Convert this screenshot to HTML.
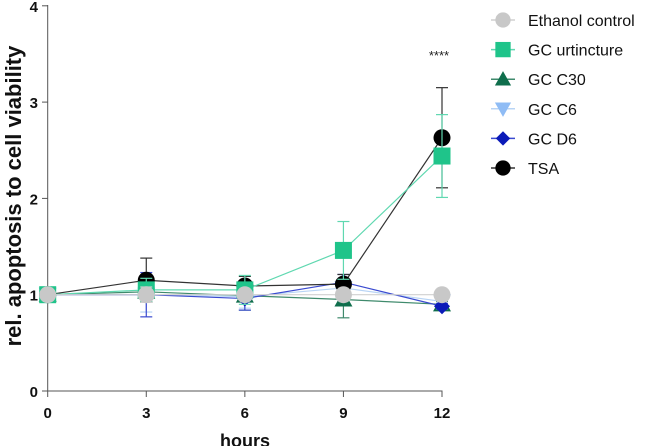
<!DOCTYPE html>
<html><head><meta charset="utf-8"><style>
body{margin:0;background:#fff;}
svg{display:block;font-family:"Liberation Sans",Arial,sans-serif;}
</style></head><body>
<svg id="chart" width="646" height="446" viewBox="0 0 646 446"></svg>
<script>
const hours=[0,3,6,9,12];
const yTicks=[0,1,2,3,4];
const seriesNames=["Ethanol control","GC urtincture","GC C30","GC C6","GC D6","TSA"];
const ethanol=[1,1,1,1,1];
const urt=[1,1.05,1.05,1.46,2.44];
const c30=[1,1.03,0.99,0.95,0.9];
const c6=[1,1.0,0.98,1.07,0.93];
const d6=[1,1.0,0.96,1.13,0.88];
const tsa=[1,1.15,1.09,1.11,2.63];
const ethanolErr=[0,0.08,0.05,0.05,0.03];
const urtErr=[0,0.12,0.15,0.30,0.43];
const c30Err=[0,0.1,0.15,0.19,0.03];
const c6Err=[0,0.18,0.12,0.1,0.03];
const d6Err=[0,0.23,0.12,0.08,0.03];
const tsaErr=[0,0.23,0.1,0.1,0.52];
const colors=["#c8c8c8","#1fc48a","#0f6e4c","#8fbcf5","#0b1ab8","#000000"];
const lineColors=["#d0d0d0","#5fd8b0","#3f8a6c","#b8d4f5","#3a4ad0","#333333"];
const shapes=["circle","square","tri","tridown","diamond","circle"];
const all=[ethanol,urt,c30,c6,d6,tsa];
const errs=[ethanolErr,urtErr,c30Err,c6Err,d6Err,tsaErr];
const NS="http://www.w3.org/2000/svg";
const svg=document.getElementById('chart');
const X=v=>47.7+v*(442-47.7)/12;
const Y=v=>391-v*96.3;
function mk(t,a,p){const e=document.createElementNS(NS,t);for(const k in a)e.setAttribute(k,a[k]);(p||svg).appendChild(e);return e;}
let ax=mk('line',{x1:47.7,y1:5,x2:47.7,y2:391,stroke:'#555','stroke-width':1});


let ax2=mk('line',{x1:47.7,y1:391,x2:442.5,y2:391,stroke:'#555','stroke-width':1});


yTicks.forEach(t=>{
  mk('line',{x1:42,x2:47.7,y1:Y(t),y2:Y(t),stroke:'#555'});
  const tx=mk('text',{x:38,y:Y(t)+6,'text-anchor':'end','font-size':15,'font-weight':'bold',fill:'#111'});
  tx.textContent=t;
  
  
});
hours.forEach(h=>{
  mk('line',{x1:X(h),x2:X(h),y1:391,y2:397,stroke:'#555'});
  const tx=mk('text',{x:X(h),y:418,'text-anchor':'middle','font-size':15,'font-weight':'bold',fill:'#111'});
  tx.textContent=h;
  
  
});
let xt=mk('text',{x:245,y:447,'text-anchor':'middle','font-size':18,'font-weight':'bold',fill:'#111'});
xt.textContent='hours';


let yt=mk('text',{x:0,y:0,transform:'translate(21,196) rotate(-90)','text-anchor':'middle','font-size':22,'font-weight':'bold',fill:'#111'});
yt.textContent='rel. apoptosis to cell viability';


let st=mk('text',{x:439,y:60,'text-anchor':'middle','font-size':13,fill:'#222'});
st.textContent='****';


function marker(shape,cx,cy,col,g,s){
  s=s||1;
  if(shape==='circle')return mk('circle',{cx:cx,cy:cy,r:8.5*s,fill:col},g);
  if(shape==='square')return mk('rect',{x:cx-8.5*s,y:cy-8.5*s,width:17*s,height:17*s,fill:col},g);
  if(shape==='tri')return mk('polygon',{points:`${cx},${cy-9*s} ${cx+9*s},${cy+7*s} ${cx-9*s},${cy+7*s}`,fill:col},g);
  if(shape==='tridown')return mk('polygon',{points:`${cx},${cy+9*s} ${cx+9*s},${cy-7*s} ${cx-9*s},${cy-7*s}`,fill:col},g);
  return mk('polygon',{points:`${cx},${cy-8*s} ${cx+8*s},${cy} ${cx},${cy+8*s} ${cx-8*s},${cy}`,fill:col},g);
}
const order=[2,3,4,5,1,0];
order.forEach(i=>{
  const g=mk('g',{});
  
  
  const d=all[i],e=errs[i];
  mk('polyline',{points:hours.map((h,k)=>X(h)+','+Y(d[k])).join(' '),fill:'none',stroke:lineColors[i],'stroke-width':1.2},g);
  hours.forEach((h,k)=>{
    if(e[k]>0){
      mk('line',{x1:X(h),x2:X(h),y1:Y(d[k]-e[k]),y2:Y(d[k]+e[k]),stroke:lineColors[i],'stroke-width':1.2},g);
      [d[k]-e[k],d[k]+e[k]].forEach(v=>mk('line',{x1:X(h)-6,x2:X(h)+6,y1:Y(v),y2:Y(v),stroke:lineColors[i],'stroke-width':1.2},g));
    }
    const m=marker(shapes[i],X(h),Y(d[k]),colors[i],g);
    
    
  });
});
seriesNames.forEach((n,i)=>{
  const g=mk('g',{});
  
  
  const y=20+i*29.6;
  mk('line',{x1:491,x2:515,y1:y,y2:y,stroke:lineColors[i],'stroke-width':1.5},g);
  marker(shapes[i],503,y,colors[i],g,0.9);
  const t=mk('text',{x:528,y:y+6,'font-size':16,fill:'#111'},g);
  t.textContent=n;
});
</script>
</body></html>
